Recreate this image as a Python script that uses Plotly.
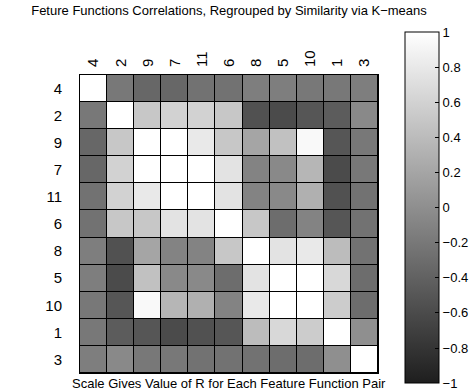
import plotly.graph_objects as go

labels = ["4", "2", "9", "7", "11", "6", "8", "5", "10", "1", "3"]

r_4  = [1.00, -0.20, -0.35, -0.35, -0.25, -0.25, -0.15, -0.15, -0.20, -0.20, -0.15]
r_2  = [-0.20, 1.00, 0.50, 0.60, 0.60, 0.50, -0.55, -0.60, -0.50, -0.45, -0.05]
r_9  = [-0.35, 0.50, 1.00, 1.00, 0.80, 0.50, 0.20, 0.45, 0.95, -0.50, -0.20]
r_7  = [-0.35, 0.60, 1.00, 1.00, 1.00, 0.75, -0.10, -0.05, 0.35, -0.60, -0.20]
r_11 = [-0.25, 0.60, 0.80, 1.00, 1.00, 0.75, -0.10, -0.05, 0.30, -0.55, -0.25]
r_6  = [-0.25, 0.50, 0.50, 0.75, 0.75, 1.00, 0.50, -0.30, -0.10, -0.50, -0.25]
r_8  = [-0.15, -0.55, 0.20, -0.10, -0.10, 0.50, 1.00, 0.75, 0.80, 0.40, -0.25]
r_5  = [-0.15, -0.60, 0.45, -0.05, -0.05, -0.30, 0.75, 1.00, 1.00, 0.65, -0.30]
r_10 = [-0.20, -0.50, 0.95, 0.35, 0.30, -0.10, 0.80, 1.00, 1.00, 0.55, -0.30]
r_1  = [-0.20, -0.45, -0.50, -0.60, -0.55, -0.50, 0.40, 0.65, 0.55, 1.00, 0.00]
r_3  = [-0.15, -0.05, -0.20, -0.20, -0.25, -0.25, -0.25, -0.30, -0.30, 0.00, 1.00]

z = [r_4, r_2, r_9, r_7, r_11, r_6, r_8, r_5, r_10, r_1, r_3]

cb_vals = [-1, -0.8, -0.6, -0.4, -0.2, 0, 0.2, 0.4, 0.6, 0.8, 1]
cb_text = ["\u22121", "\u22120.8", "\u22120.6", "\u22120.4", "\u22120.2", "0",
           "0.2", "0.4", "0.6", "0.8", "1"]

font = "Liberation Sans, Arial, sans-serif"

fig = go.Figure(go.Heatmap(
    z=z, x=labels, y=labels,
    zmin=-1, zmax=1,
    colorscale=[[0, "rgb(30,30,30)"], [1, "rgb(255,255,255)"]],
    xgap=1, ygap=1,
    hoverongaps=False,
    colorbar=dict(
        lenmode="pixels", len=351, thicknessmode="pixels", thickness=34,
        x=1.0906, xanchor="left", xpad=0,
        y=0.555, yanchor="middle", ypad=0,
        outlinecolor="black", outlinewidth=1,
        tickvals=cb_vals, ticktext=cb_text,
        ticks="inside", ticklen=4, tickcolor="black",
        tickfont=dict(family=font, size=13, color="black"),
    ),
))

fig.update_layout(
    width=469, height=392,
    margin=dict(l=80, r=91, t=75, b=19, autoexpand=False),
    paper_bgcolor="white", plot_bgcolor="black",
    font=dict(family=font, color="black"),
    title=dict(text="Feture Functions Correlations, Regrouped by Similarity via K\u2212means",
               x=0.5, xref="paper", xanchor="center", y=0.985, yanchor="top",
               font=dict(size=13, family=font, color="black")),
    xaxis=dict(type="category", side="top", tickangle=-90, ticks="",
               tickfont=dict(size=15, family=font), showline=True, linecolor="black",
               linewidth=1, mirror=True, showgrid=False, zeroline=False,
               automargin=False, ticklabelstandoff=4),
    yaxis=dict(type="category", autorange="reversed", ticks="",
               tickfont=dict(size=15, family=font), showline=True, linecolor="black",
               linewidth=1, mirror=True, showgrid=False, zeroline=False,
               ticklabelstandoff=14, automargin=False),
    annotations=[dict(text="Scale Gives Value of R for Each Feature Function Pair",
                      xref="paper", yref="paper", x=0.5, y=0, yshift=-10,
                      xanchor="center", yanchor="middle", showarrow=False,
                      font=dict(size=13, family=font, color="black"))],
)

fig.write_html("out.html", config={"displayModeBar": False},
               post_script="document.body.style.margin='0px';document.body.style.padding='0px';")
